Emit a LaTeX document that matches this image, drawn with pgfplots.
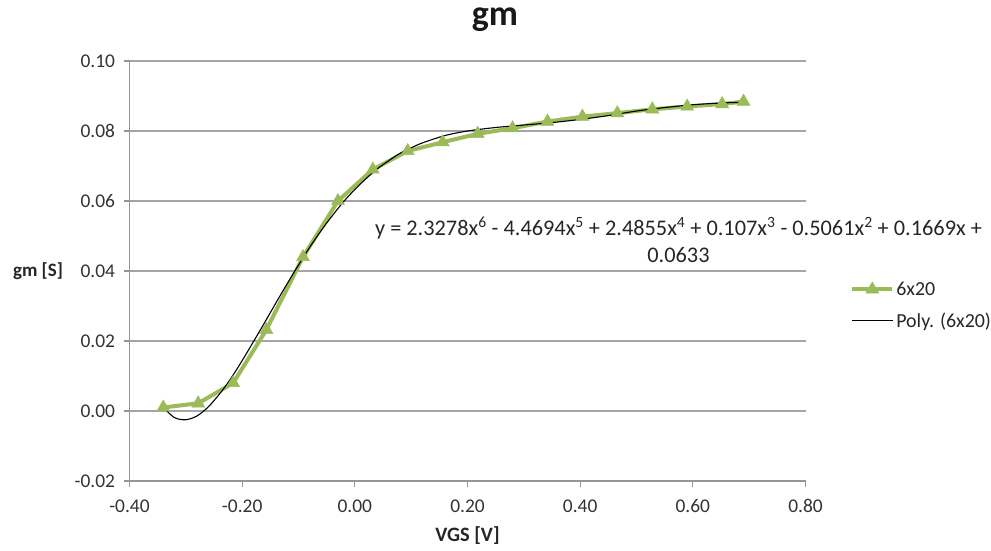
\documentclass[border=0pt]{standalone}
\usepackage{fontspec}
\setmainfont{Carlito}
\usepackage{pgfplots}
\pgfplotsset{compat=1.18}

\definecolor{sergreen}{RGB}{155,187,89}
\definecolor{gridgray}{RGB}{165,165,165}
\definecolor{axgray}{RGB}{150,150,150}

% measured transconductance, device 6x20
\pgfplotstableread{
vgs     gm
-0.340 0.0010
-0.278 0.0022
-0.216 0.0080
-0.157 0.0232
-0.092 0.0440
-0.030 0.0600
 0.032 0.0690
 0.094 0.0743
 0.156 0.0768
 0.218 0.0792
 0.280 0.0808
 0.342 0.0827
 0.404 0.0841
 0.466 0.0851
 0.528 0.0862
 0.590 0.0870
 0.652 0.0877
 0.690 0.0884
}\measured

% 6th order polynomial fit, evaluated at sample voltages
\pgfplotstableread{
vgs    gm
-0.34 0.0010
-0.32 -0.0019
-0.30 -0.0025
-0.28 -0.0014
-0.26 0.0012
-0.24 0.0049
-0.22 0.0093
-0.20 0.0144
-0.18 0.0198
-0.16 0.0253
-0.14 0.0309
-0.12 0.0364
-0.10 0.0417
-0.08 0.0468
-0.06 0.0515
-0.04 0.0558
-0.02 0.0598
 0.00 0.0633
 0.02 0.0664
 0.04 0.0692
 0.06 0.0715
 0.08 0.0736
 0.10 0.0752
 0.12 0.0766
 0.16 0.0787
 0.20 0.0800
 0.25 0.0810
 0.30 0.0817
 0.35 0.0824
 0.40 0.0833
 0.45 0.0844
 0.50 0.0857
 0.55 0.0867
 0.60 0.0875
 0.65 0.0880
 0.69 0.0882
}\polyfit

\begin{document}
\begin{tikzpicture}
\path[use as bounding box] (0,0) rectangle (991bp,551bp);
\begin{axis}[
  at={(129.5bp,70bp)}, anchor=south west,
  scale only axis, width=676bp, height=420bp,
  xmin=-0.4, xmax=0.8, ymin=-0.02, ymax=0.10,
  xtick={-0.4,-0.2,0,0.2,0.4,0.6,0.8},
  ytick={-0.02,0,0.02,0.04,0.06,0.08,0.10},
  axis lines=left,
  axis line style={-, draw=axgray, line width=1.3bp},
  tick style={draw=axgray, line width=1.3bp},
  tick align=outside, major tick length=6bp,
  ymajorgrids, grid style={draw=gridgray, line width=1.3bp},
  /pgf/number format/assume math mode=true,
  xticklabel style={/pgf/number format/.cd, fixed, fixed zerofill, precision=2},
  yticklabel style={/pgf/number format/.cd, fixed, fixed zerofill, precision=2},
  scaled ticks=false,
  tick label style={font=\fontsize{19.5}{22}\selectfont, text=black!80},
  xticklabel shift=9bp, yticklabel shift=5bp,
  legend style={at={(1.066,0.418)}, anchor=west, draw=none, fill=none,
    inner sep=0pt, row sep=12bp, font=\fontsize{20}{23}\selectfont,
    nodes={text=black!85}},
  legend cell align=left,
  legend image code/.code={\draw[mark repeat=2,mark phase=2,#1]
    plot coordinates {(0bp,0bp) (20bp,0bp) (40bp,0bp)};},
]
\addplot[color=sergreen, line width=4bp, mark=triangle*, mark size=7.5bp,
  mark options={fill=sergreen, draw=sergreen, line width=0.5bp}]
  table[x=vgs, y=gm] {\measured};
\addlegendentry{6x20}
\addplot[black, line width=1.1bp, smooth] table[x=vgs, y=gm] {\polyfit};
\addlegendentry{Poly. (6x20)}
\end{axis}
\node[font=\bfseries\fontsize{36}{40}\selectfont, text=black!90] at (495bp,531bp) {gm};
\node[font=\bfseries\fontsize{19}{23}\selectfont, text=black!85] at (38bp,280bp) {gm [S]};
\node[font=\bfseries\fontsize{20.5}{24}\selectfont, text=black!85] at (467.5bp,15bp) {VGS [V]};
\node[align=center, font=\fontsize{22.4}{27}\selectfont, text=black!85] at (678.5bp,311bp)
  {y = 2.3278x\textsuperscript{6} - 4.4694x\textsuperscript{5} + 2.4855x\textsuperscript{4} + 0.107x\textsuperscript{3} - 0.5061x\textsuperscript{2} + 0.1669x +\\ 0.0633};
\end{tikzpicture}
\end{document}
